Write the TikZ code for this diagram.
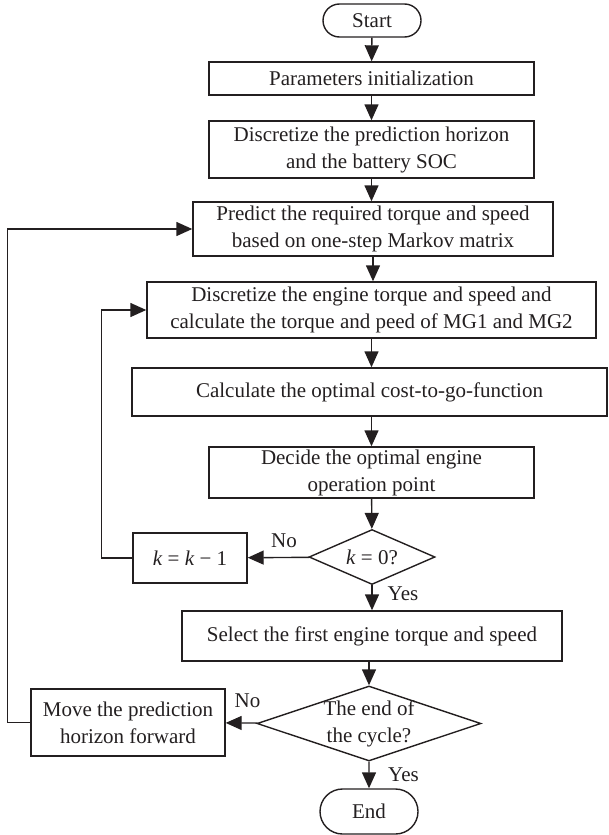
\documentclass[tikz,border=0pt]{standalone}
\usepackage{fontspec}
\setmainfont{Liberation Serif}
\usetikzlibrary{arrows.meta,shapes.geometric,shapes.misc}
\definecolor{LineClr}{RGB}{35,31,32}

\begin{document}
\begin{tikzpicture}[x=0.5pt,y=-0.5pt,
  font=\fontsize{10.5}{13.5}\selectfont,
  every node/.style={text=LineClr},
  box/.style={draw=LineClr,line width=0.7pt,inner sep=0pt,align=center},
  term/.style={box,rounded rectangle},
  decision/.style={box,diamond,inner sep=-10pt},
  arr/.style={draw=LineClr,line width=0.7pt,-{Triangle[length=8pt,width=7pt]}}]

\useasboundingbox (0,0) rectangle (609,835);

\node[term,minimum width=49pt,minimum height=16.5pt] (start) at (372,20.5) {Start};
\node[box,minimum width=162.5pt,minimum height=16.5pt] (param) at (371.5,78.5) {Parameters initialization};
\node[box,minimum width=162.5pt,minimum height=28.5pt] (discPred) at (371.5,149.5) {Discretize the prediction horizon\\and the battery SOC};
\node[box,minimum width=180pt,minimum height=27pt] (predict) at (373,229) {Predict the required torque and speed\\based on one-step Markov matrix};
\node[box,minimum width=224.5pt,minimum height=28pt] (discEng) at (371.5,310) {Discretize the engine torque and speed and\\calculate the torque and peed of MG1 and MG2};
\node[box,minimum width=237.5pt,minimum height=24pt] (calc) at (369.5,392) {Calculate the optimal cost-to-go-function};
\node[box,minimum width=162.5pt,minimum height=25.5pt] (decide) at (371.5,472.5) {Decide the optimal engine\\operation point};
\node[decision,minimum width=63pt,minimum height=27.5pt] (kZero) at (372,557) {\textit{k} = 0?};
\node[box,minimum width=57pt,minimum height=25pt] (kDec) at (190,558) {\textit{k} = \textit{k} − 1};
\node[box,minimum width=190pt,minimum height=25pt] (select) at (372,636) {Select the first engine torque and speed};
\node[decision,minimum width=112pt,minimum height=37.5pt] (cycEnd) at (369,723.5) {The end of\\the cycle?};
\node[box,minimum width=97pt,minimum height=33.5pt] (move) at (128,722.5) {Move the prediction\\horizon forward};
\node[term,minimum width=49pt,minimum height=22.5pt] (stop) at (369,811.5) {End};

\node (noK) at (284,541) {No};
\node (yesK) at (403,594) {Yes};
\node (noEnd) at (247.5,700.5) {No};
\node (yesEnd) at (403.5,775) {Yes};

% main column
\draw[arr] (start) -- (param);
\draw[arr] (param) -- (discPred);
\draw[arr] (discPred.south) -- (discPred.south |- predict.north);
\draw[arr] (predict.south) -- (predict.south |- discEng.north);
\draw[arr] (discEng.south) -- (discEng.south |- calc.north);
\draw[arr] (decide.south |- calc.south) -- (decide.north);
\draw[arr] (decide) -- (kZero);
\draw[arr] (kZero) -- (select);
\draw[arr] (select.south) -- (select.south -| cycEnd.north) -- (cycEnd.north);
\draw[arr] (cycEnd) -- (stop);

% loops
\draw[arr] (kZero) -- (kDec);
\draw[arr] (kDec.west) -- ++(-31,0) |- (discEng.west);
\draw[arr] (cycEnd) -- (move);
\draw[arr] (move.west) -- ++(-23,0) |- (predict.west);

\end{tikzpicture}
\end{document}
